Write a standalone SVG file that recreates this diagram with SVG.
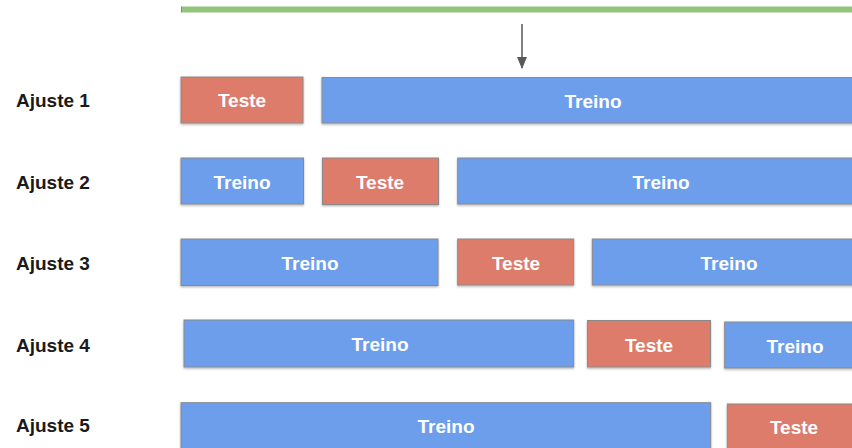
<svg xmlns="http://www.w3.org/2000/svg" width="852" height="448" viewBox="0 0 852 448">
<defs>
<filter id="sh" x="-5%" y="-20%" width="110%" height="150%">
<feDropShadow dx="0" dy="1.2" stdDeviation="0.8" flood-color="#000" flood-opacity="0.3"/>
</filter>
<marker id="ah" markerWidth="12" markerHeight="10" refX="11" refY="5" orient="auto" markerUnits="userSpaceOnUse" viewBox="0 0 12 10">
<path d="M0,0 L12,5 L0,10 Z" fill="#595959"/>
</marker>
</defs>
<style>
.teste{fill:#dd7c6a;stroke:#8a8a8a;stroke-width:1;filter:url(#sh)}
.treino{fill:#6d9eeb;stroke:#8a8a8a;stroke-width:1;filter:url(#sh)}
.bt{font-family:"Liberation Sans",Arial,sans-serif;font-weight:bold;font-size:19px;fill:#ffffff;text-anchor:middle}
.lbl{font-family:"Liberation Sans",Arial,sans-serif;font-weight:bold;font-size:19px;fill:#1a1a1a}
</style>
<rect width="852" height="448" fill="#ffffff"/>
<g id="top-bar">
<rect x="181" y="6.5" width="690" height="6" fill="#93c47d"/>
<line x1="181" y1="12.5" x2="852" y2="12.5" stroke="#8a8a8a" stroke-width="1" filter="url(#sh)"/>
<line x1="181.5" y1="6.5" x2="181.5" y2="12.5" stroke="#8a8a8a" stroke-width="1"/>
</g>
<g id="connectors">
<line x1="522" y1="24" x2="522" y2="68" stroke="#595959" stroke-width="1.5" marker-end="url(#ah)"/>
</g>
<g id="labels">
<text class="lbl" x="16" y="107">Ajuste 1</text>
<text class="lbl" x="16" y="189">Ajuste 2</text>
<text class="lbl" x="16" y="270">Ajuste 3</text>
<text class="lbl" x="16" y="351.5">Ajuste 4</text>
<text class="lbl" x="16" y="432">Ajuste 5</text>
</g>
<g id="row1">
<g id="r1-teste"><rect class="teste" x="181" y="77" width="122" height="46"/><text class="bt" x="242" y="107">Teste</text></g>
<g id="r1-treino"><rect class="treino" x="322" y="77.5" width="542" height="45.5"/><text class="bt" x="593" y="108">Treino</text></g>
</g>
<g id="row2">
<g id="r2-treino1"><rect class="treino" x="181" y="158" width="122.5" height="46"/><text class="bt" x="242" y="188.5">Treino</text></g>
<g id="r2-teste"><rect class="teste" x="322.5" y="158" width="116" height="46.5"/><text class="bt" x="380" y="188.5">Teste</text></g>
<g id="r2-treino2"><rect class="treino" x="457.7" y="158" width="406" height="46"/><text class="bt" x="661" y="188.5">Treino</text></g>
</g>
<g id="row3">
<g id="r3-treino1"><rect class="treino" x="181" y="239" width="257" height="46.5"/><text class="bt" x="310" y="269.5">Treino</text></g>
<g id="r3-teste"><rect class="teste" x="457.7" y="239" width="116" height="46"/><text class="bt" x="516" y="269.5">Teste</text></g>
<g id="r3-treino2"><rect class="treino" x="592.3" y="239" width="272" height="46"/><text class="bt" x="729" y="269.5">Treino</text></g>
</g>
<g id="row4">
<g id="r4-treino1"><rect class="treino" x="184" y="320" width="389.7" height="47"/><text class="bt" x="380" y="351">Treino</text></g>
<g id="r4-teste"><rect class="teste" x="587.5" y="320.5" width="123" height="46.5"/><text class="bt" x="649" y="351.5">Teste</text></g>
<g id="r4-treino2"><rect class="treino" x="724.7" y="322" width="140" height="46"/><text class="bt" x="795" y="352.5">Treino</text></g>
</g>
<g id="row5">
<g id="r5-treino"><rect class="treino" x="181" y="402.7" width="529.7" height="47"/><text class="bt" x="446" y="432.5">Treino</text></g>
<g id="r5-teste"><rect class="teste" x="727.3" y="404" width="137" height="46"/><text class="bt" x="794" y="434">Teste</text></g>
</g>
</svg>
